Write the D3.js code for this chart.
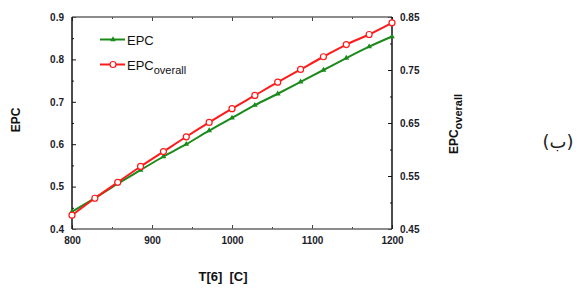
<!DOCTYPE html>
<html><head><meta charset="utf-8">
<script src="https://cdn.jsdelivr.net/npm/d3@7"></script>
<style>body{margin:0;background:#fff}svg{display:block}</style>
</head><body>
<svg id="c" width="583" height="289"></svg>
<script>
const temps = [800,828.57,857.14,885.71,914.29,942.86,971.43,1000,1028.57,1057.14,1085.71,1114.29,1142.86,1171.43,1200];
const epc = [0.441,0.473,0.507,0.539,0.571,0.600,0.632,0.662,0.692,0.719,0.747,0.775,0.803,0.830,0.854];
const epcOverall = [0.476,0.508,0.538,0.568,0.596,0.624,0.651,0.677,0.702,0.727,0.751,0.775,0.798,0.817,0.839];
const xTicks = [800,900,1000,1100,1200];
const xMinor = [850,950,1050,1150];
const yLeftTicks = [0.4,0.5,0.6,0.7,0.8,0.9];
const yLeftMinor = [0.45,0.55,0.65,0.75,0.85];
const yRightTicks = [0.45,0.55,0.65,0.75,0.85];
const yRightMinor = [0.5,0.6,0.7,0.8];

const svg = d3.select('#c');
const L=72,R=392,T=17,B=229;
const x = d3.scaleLinear().domain([800,1200]).range([L,R]);
const yl = d3.scaleLinear().domain([0.4,0.9]).range([B,T]);
const yr = d3.scaleLinear().domain([0.45,0.85]).range([B,T]);
const tickFont = 'bold 10px Arial, "Liberation Sans", sans-serif';
const tickColor = '#1c1c2a';

function styleAxis(g, col){
  g.select('.domain').remove();
  g.selectAll('line').attr('stroke', col).attr('stroke-width',1);
  g.selectAll('text').style('font', tickFont).attr('fill', tickColor);
}
// bottom
const gb = svg.append('g').attr('transform',`translate(0,${B})`)
  .call(d3.axisBottom(x).tickValues(xTicks).tickSizeInner(-4).tickSizeOuter(0).tickPadding(8).tickFormat(d3.format('d')));
styleAxis(gb,'#444');
svg.append('g').attr('transform',`translate(0,${B})`)
  .call(d3.axisBottom(x).tickValues(xMinor).tickSize(-2).tickFormat(''))
  .call(g=>{g.select('.domain').remove();g.selectAll('line').attr('stroke','#444');});
// top
svg.append('g').attr('transform',`translate(0,${T})`)
  .call(d3.axisTop(x).tickValues(xTicks).tickSize(-4).tickFormat(''))
  .call(g=>{g.select('.domain').remove();g.selectAll('line').attr('stroke','#444');});
svg.append('g').attr('transform',`translate(0,${T})`)
  .call(d3.axisTop(x).tickValues(xMinor).tickSize(-2).tickFormat(''))
  .call(g=>{g.select('.domain').remove();g.selectAll('line').attr('stroke','#444');});
// left
const gl = svg.append('g').attr('transform',`translate(${L},0)`)
  .call(d3.axisLeft(yl).tickValues(yLeftTicks).tickSizeInner(-4).tickSizeOuter(0).tickPadding(8).tickFormat(d3.format('.1f')));
styleAxis(gl,'#111');
svg.append('g').attr('transform',`translate(${L},0)`)
  .call(d3.axisLeft(yl).tickValues(yLeftMinor).tickSize(-2).tickFormat(''))
  .call(g=>{g.select('.domain').remove();g.selectAll('line').attr('stroke','#111');});
// right
const gr = svg.append('g').attr('transform',`translate(${R},0)`)
  .call(d3.axisRight(yr).tickValues(yRightTicks).tickSizeInner(-4).tickSizeOuter(0).tickPadding(8).tickFormat(d3.format('.2f')));
styleAxis(gr,'#111');
svg.append('g').attr('transform',`translate(${R},0)`)
  .call(d3.axisRight(yr).tickValues(yRightMinor).tickSize(-2).tickFormat(''))
  .call(g=>{g.select('.domain').remove();g.selectAll('line').attr('stroke','#111');});

// frame lines
svg.append('line').attr('x1',L).attr('x2',R).attr('y1',T).attr('y2',T).attr('stroke','#666').attr('stroke-width',1.5);
svg.append('line').attr('x1',L).attr('x2',R).attr('y1',B).attr('y2',B).attr('stroke','#666').attr('stroke-width',1.5);
svg.append('line').attr('x1',L).attr('x2',L).attr('y1',T).attr('y2',B).attr('stroke','#111').attr('stroke-width',1.5);
svg.append('line').attr('x1',R).attr('x2',R).attr('y1',T).attr('y2',B).attr('stroke','#111').attr('stroke-width',1.5);

const green='#1a8a1a', red='#ff1a1a';
const lg = d3.line().x((d,i)=>x(temps[i])).y(d=>yl(d)).curve(d3.curveMonotoneX);
const lr = d3.line().x((d,i)=>x(temps[i])).y(d=>yr(d)).curve(d3.curveMonotoneX);
svg.append('path').datum(epc).attr('d',lg).attr('fill','none').attr('stroke',green).attr('stroke-width',2);
svg.append('path').datum(epcOverall).attr('d',lr).attr('fill','none').attr('stroke',red).attr('stroke-width',2);
const tri = d3.symbol().type(d3.symbolTriangle).size(14);
svg.append('g').selectAll('path').data(epc).join('path')
  .attr('d',tri).attr('transform',(d,i)=>`translate(${x(temps[i])},${yl(d)})`).attr('fill',green);
svg.append('g').selectAll('circle').data(epcOverall).join('circle')
  .attr('cx',(d,i)=>x(temps[i])).attr('cy',d=>yr(d)).attr('r',3)
  .attr('fill','#fff').attr('stroke',red).attr('stroke-width',1.2);

// legend
const lgFont='13px "Liberation Sans", Arial, sans-serif';
svg.append('line').attr('x1',100).attr('x2',125).attr('y1',39.5).attr('y2',39.5).attr('stroke',green).attr('stroke-width',2);
svg.append('path').attr('d',tri).attr('transform','translate(113,39.5)').attr('fill',green);
svg.append('text').attr('x',127).attr('y',44.5).style('font',lgFont).attr('fill','#111').text('EPC');
svg.append('line').attr('x1',100).attr('x2',125).attr('y1',64.5).attr('y2',64.5).attr('stroke',red).attr('stroke-width',2);
svg.append('circle').attr('cx',113).attr('cy',64.5).attr('r',3).attr('fill','#fff').attr('stroke',red).attr('stroke-width',1.2);
const t2 = svg.append('text').attr('x',127).attr('y',69.5).style('font',lgFont).attr('fill','#111');
t2.append('tspan').text('EPC');
t2.append('tspan').attr('dy',4).style('font-size','11px').text('overall');

// axis titles
const titleFont='bold 12px Arial, "Liberation Sans", sans-serif';
svg.append('text').attr('transform','translate(20,120) rotate(-90)').attr('text-anchor','middle')
  .style('font',titleFont).attr('fill','#111').text('EPC');
const rt = svg.append('text').attr('transform','translate(458,124) rotate(-90)').attr('text-anchor','middle')
  .style('font',titleFont).attr('fill','#111');
rt.append('tspan').text('EPC');
rt.append('tspan').attr('dy',4).style('font-size','11px').text('overall');
svg.append('text').attr('x',223).attr('y',281).attr('text-anchor','middle')
  .style('font','bold 13px Arial, "Liberation Sans", sans-serif').attr('fill','#111')
  .attr('xml:space','preserve').style('white-space','pre').text('T[6]  [C]');
svg.append('text').attr('x',558).attr('y',148).attr('text-anchor','middle')
  .style('font','18px "DejaVu Sans", "Noto Sans", sans-serif').attr('fill','#222').text('(ب)');
</script>
</body></html>
